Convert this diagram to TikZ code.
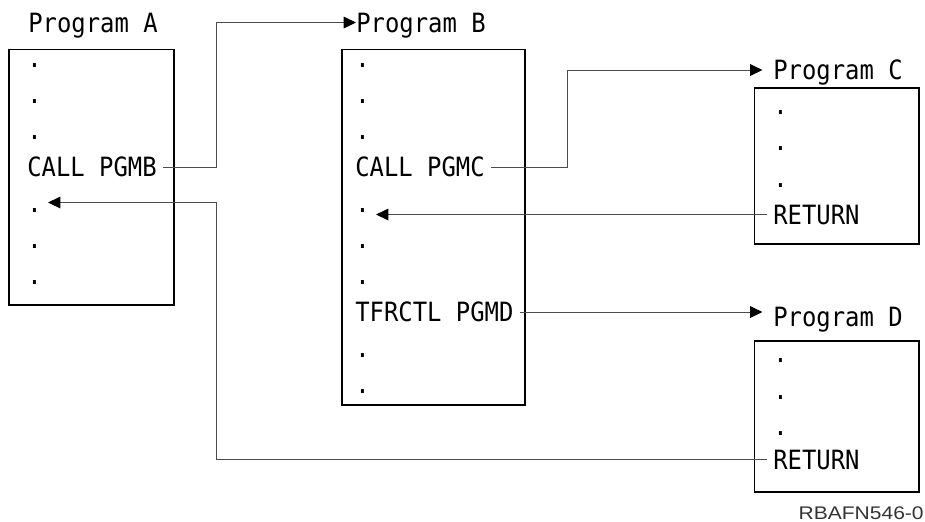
\documentclass[tikz,border=0pt]{standalone}
\usepackage{fontspec}
\usetikzlibrary{arrows.meta}
\newfontfamily\codefont[FakeStretch=0.90]{DejaVu Sans Mono}
\newfontfamily\tagfont[FakeStretch=1.15]{Liberation Sans}
\tikzset{
  prog/.style={draw, line width=0.6pt, inner sep=0pt},
  stmt/.style={anchor=base west, inner xsep=3.4pt, text height=10.8pt, text depth=0pt,
    font={\codefont\fontsize{15.1}{18}\selectfont}},
  pgmname/.style={stmt, inner xsep=0pt},
  flow/.style={draw=black!70, line width=0.55pt},
  tip/.style={-{Triangle[length=7pt, width=6.6pt, color=black]}}
}
\begin{document}
\begin{tikzpicture}[x=0.02cm, y=-0.02cm]
\useasboundingbox (0,0) rectangle (925,521);

% Program A
\node[pgmname] (nameA) at (28,32) {Program A};
\node[prog, minimum width=3.3cm, minimum height=5.12cm] (boxA) at (91.5,177) {};
\foreach \y in {67,103,139,248,284}
  \node[stmt] at (21,\y) {.};
\node[stmt] (callB) at (21,176.5) {CALL PGMB};
\node[stmt] (dotA) at (21,212) {.};

% Program B
\node[pgmname] (nameB) at (356,32) {Program B};
\node[prog, minimum width=3.66cm, minimum height=7.12cm] (boxB) at (433.5,227) {};
\foreach \y in {67,103,139,248,284,357,393}
  \node[stmt] at (349,\y) {.};
\node[stmt] (callC) at (349,176.5) {CALL PGMC};
\node[stmt] (dotB) at (349,212) {.};
\node[stmt] (tfrD) at (349,321.5) {TFRCTL PGMD};

% Program C
\node[pgmname] (nameC) at (773,79.5) {Program C};
\node[prog, minimum width=3.3cm, minimum height=3.12cm] (boxC) at (836.5,166) {};
\foreach \y in {114,150,187}
  \node[stmt] at (767,\y) {.};
\node[stmt] (retC) at (767,224) {RETURN};

% Program D
\node[pgmname] (nameD) at (773,326) {Program D};
\node[prog, minimum width=3.3cm, minimum height=3.02cm] (boxD) at (836.5,416.5) {};
\foreach \y in {362,399,435}
  \node[stmt] at (767,\y) {.};
\node[stmt] (retD) at (767,469) {RETURN};

\node[anchor=base east, inner sep=0pt, text=black!80, font={\tagfont\fontsize{10.4}{12}\selectfont}]
  (tag) at (924,519) {RBAFN546-0};

% calls and returns
\coordinate (railA) at (216,0);
\coordinate (railB) at (567,0);
\draw[flow, tip] (callB.east) -| (railA |- nameB.west) -- (nameB.west);
\draw[flow, tip] (retD.west) -| (railA |- dotA.east) -- (dotA.east);
\draw[flow, tip, shorten >=6pt] (callC.east) -| (railB |- nameC.west) -- (nameC.west);
\draw[flow, tip] (retC.west) -- (dotB.east |- retC.west);
\draw[flow, tip, shorten >=6pt] (tfrD.east) -- (tfrD.east -| nameD.west);
\end{tikzpicture}
\end{document}
